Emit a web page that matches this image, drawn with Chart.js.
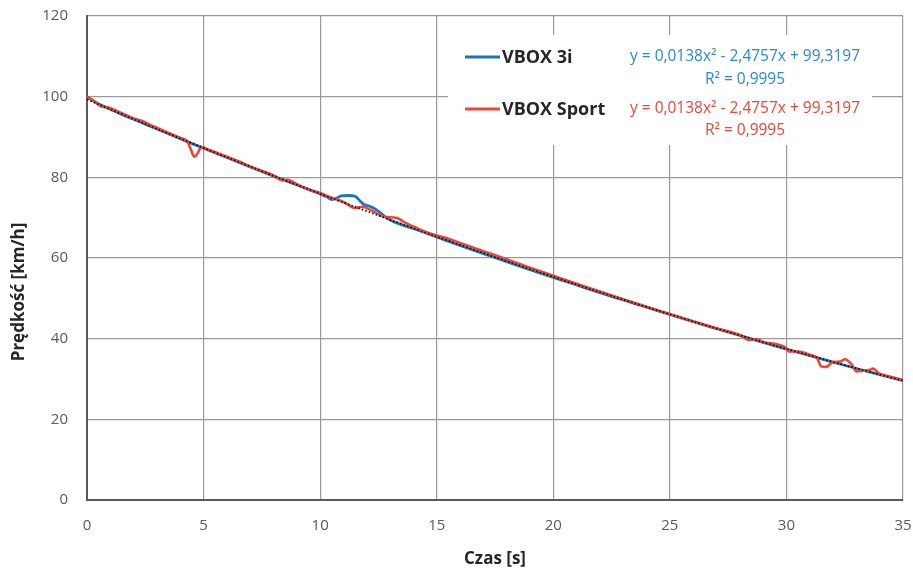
<!DOCTYPE html>
<html>
<head>
<meta charset="utf-8">
<script src="https://cdn.jsdelivr.net/npm/chart.js@4/dist/chart.umd.min.js"></script>
<style>
  html, body { margin: 0; padding: 0; background: #ffffff; }
  #wrap { width: 913px; height: 572px; position: relative; }
</style>
</head>
<body>
<div id="wrap"><canvas id="c" width="913" height="572"></canvas></div>
<script>
// ---- data ----
const seriesNames = ['VBOX 3i', 'VBOX Sport'];
const equationTexts = ['y = 0,0138x\u00B2 - 2,4757x + 99,3197', 'y = 0,0138x\u00B2 - 2,4757x + 99,3197'];
const r2Texts = ['R\u00B2 = 0,9995', 'R\u00B2 = 0,9995'];

const timeBlue = [0, 0.5, 1, 1.5, 2, 3, 4, 5, 6, 7, 8, 9, 10, 10.3, 10.5, 10.7, 10.9, 11.2, 11.5, 11.7, 11.9, 12.1, 12.4, 13, 14, 15, 16, 17, 18, 19, 20, 21, 22, 23, 24, 25, 26, 27, 28, 29, 30, 31, 31.5, 32, 33, 34, 35];
const speedBlue = [99.9, 98.2, 96.9, 95.6, 94.4, 92.0, 89.6, 87.2, 84.9, 82.6, 80.3, 78.1, 75.9, 75.1, 74.5, 74.8, 75.4, 75.5, 75.3, 74.2, 73.2, 72.9, 72.0, 69.4, 67.3, 65.2, 63.1, 61.1, 59.1, 57.1, 55.2, 53.3, 51.4, 49.6, 47.8, 46.0, 44.2, 42.5, 40.8, 39.1, 37.4, 35.8, 35.0, 34.2, 32.6, 31.1, 29.6];

const timeSport = [0, 0.3, 0.6, 0.9, 1.5, 2, 2.4, 2.7, 3, 3.5, 4, 4.3, 4.45, 4.6, 4.75, 4.9, 5.2, 5.5, 6, 6.5, 7, 7.5, 8, 8.35, 8.6, 9, 9.5, 10, 10.5, 11, 11.5, 11.8, 12.2, 12.7, 13.3, 13.6, 14, 14.5, 15, 15.5, 16, 17, 18, 19, 20, 21, 22, 23, 24, 25, 26, 27, 28, 28.4, 28.7, 29, 30, 30.1, 30.5, 31, 31.3, 31.5, 31.7, 32, 32.3, 32.5, 32.8, 33, 33.3, 33.6, 33.7, 34, 34.5, 35];
const speedSport = [100.0, 98.9, 97.6, 97.3, 95.9, 94.6, 93.9, 93.0, 92.3, 91.0, 89.8, 88.9, 87.0, 85.1, 86.0, 87.6, 86.9, 86.2, 85.1, 84.0, 82.7, 81.6, 80.5, 79.3, 79.4, 78.3, 77.0, 76.1, 74.9, 73.9, 72.4, 72.7, 71.8, 70.3, 69.9, 68.9, 67.8, 66.5, 65.6, 64.8, 63.7, 61.7, 59.7, 57.6, 55.6, 53.6, 51.7, 49.8, 47.9, 46.1, 44.3, 42.6, 40.9, 39.7, 39.9, 39.2, 37.6, 36.8, 36.8, 36.0, 35.3, 33.1, 33.0, 34.2, 34.3, 34.9, 33.6, 31.9, 32.1, 32.3, 32.6, 31.3, 30.5, 29.7];

const timeTrend = [0, 2.5, 5, 7.5, 10, 12.5, 15, 17.5, 20, 22.5, 25, 27.5, 30, 32.5, 35];
const speedTrend = [99.32, 93.22, 87.29, 81.53, 75.94, 70.53, 65.29, 60.22, 55.33, 50.60, 46.05, 41.67, 37.47, 33.44, 29.58];

const xTicks = [0, 5, 10, 15, 20, 25, 30, 35];
const yTicks = [0, 20, 40, 60, 80, 100, 120];

const xTitle = 'Czas [s]';
const yTitle = 'Pr\u0119dko\u015B\u0107 [km/h]';

// ---- styles ----
const blueLine = '#1c74bc';
const redLine = '#ef4437';
const blueText = '#2b8ace';
const redText = '#ef4437';

function pts(xs, ys) { return xs.map((x, i) => ({ x: x, y: ys[i] })); }

const legendPlugin = {
  id: 'trendLegend',
  afterDraw(chart) {
    const ctx = chart.ctx;
    ctx.save();
    ctx.fillStyle = '#ffffff';
    ctx.fillRect(448, 35, 424, 110);
    const rows = [
      { y: 57, color: blueLine, tcolor: blueText, r2y: 80, name: seriesNames[0], eq: equationTexts[0], r2: r2Texts[0] },
      { y: 109, color: redLine, tcolor: redText, r2y: 131, name: seriesNames[1], eq: equationTexts[1], r2: r2Texts[1] }
    ];
    rows.forEach(r => {
      ctx.strokeStyle = r.color;
      ctx.lineWidth = 3;
      ctx.beginPath();
      ctx.moveTo(465, r.y);
      ctx.lineTo(500, r.y);
      ctx.stroke();
      ctx.fillStyle = '#262626';
      ctx.font = 'bold 18px "Open Sans"';
      ctx.textAlign = 'left';
      ctx.textBaseline = 'middle';
      ctx.fillText(r.name, 502, r.y + 1);
      ctx.fillStyle = r.tcolor;
      ctx.font = '15.5px "Open Sans"';
      ctx.textAlign = 'center';
      ctx.fillText(r.eq, 745, r.y);
      ctx.fillText(r.r2, 745, r.r2y);
    });
    // y axis title
    ctx.translate(19, 292);
    ctx.rotate(-Math.PI / 2);
    ctx.fillStyle = '#262626';
    ctx.font = 'bold 17px "Open Sans"';
    ctx.textAlign = 'center';
    ctx.textBaseline = 'middle';
    ctx.fillText(yTitle, 0, 0);
    ctx.restore();
  }
};

new Chart(document.getElementById('c'), {
  type: 'line',
  data: {
    datasets: [
      {
        label: 'Trend',
        data: pts(timeTrend, speedTrend),
        borderColor: '#111111',
        borderWidth: 1.8,
        borderDash: [1.5, 2.2],
        pointRadius: 0,
        cubicInterpolationMode: 'monotone',
        order: 1
      },
      {
        label: seriesNames[1],
        data: pts(timeSport, speedSport),
        borderColor: redLine,
        borderWidth: 2.6,
        pointRadius: 0,
        cubicInterpolationMode: 'monotone',
        order: 2
      },
      {
        label: seriesNames[0],
        data: pts(timeBlue, speedBlue),
        borderColor: blueLine,
        borderWidth: 2.8,
        pointRadius: 0,
        cubicInterpolationMode: 'monotone',
        order: 3
      }
    ]
  },
  options: {
    responsive: false,
    animation: false,
    layout: { padding: { top: 16, right: 10, left: 0, bottom: 0 } },
    plugins: { legend: { display: false }, tooltip: { enabled: false } },
    scales: {
      x: {
        type: 'linear',
        min: 0,
        max: 35,
        afterBuildTicks(scale) { scale.ticks = xTicks.map(v => ({ value: v })); },
        afterFit(scale) { scale.height = 72; scale.paddingLeft = 0; scale.paddingRight = 0; },
        ticks: { color: '#595959', font: { family: 'Open Sans', size: 15 }, padding: 17, maxRotation: 0 },
        grid: { color: '#9a9a9a', lineWidth: 1.2, drawTicks: false },
        border: { color: '#5a5a5a', width: 2 },
        title: { display: true, text: xTitle, color: '#262626', font: { family: 'Open Sans', size: 17, weight: 'bold' }, padding: { top: 0, bottom: 3 } }
      },
      y: {
        min: 0,
        max: 120,
        afterBuildTicks(scale) { scale.ticks = yTicks.map(v => ({ value: v })); },
        afterFit(scale) { scale.width = 87; scale.paddingTop = 0; scale.paddingBottom = 0; },
        ticks: { color: '#595959', font: { family: 'Open Sans', size: 15 }, padding: 19 },
        grid: { color: '#9a9a9a', lineWidth: 1.2, drawTicks: false },
        border: { color: '#5a5a5a', width: 2 }
      }
    }
  },
  plugins: [legendPlugin]
});
</script>
</body>
</html>
